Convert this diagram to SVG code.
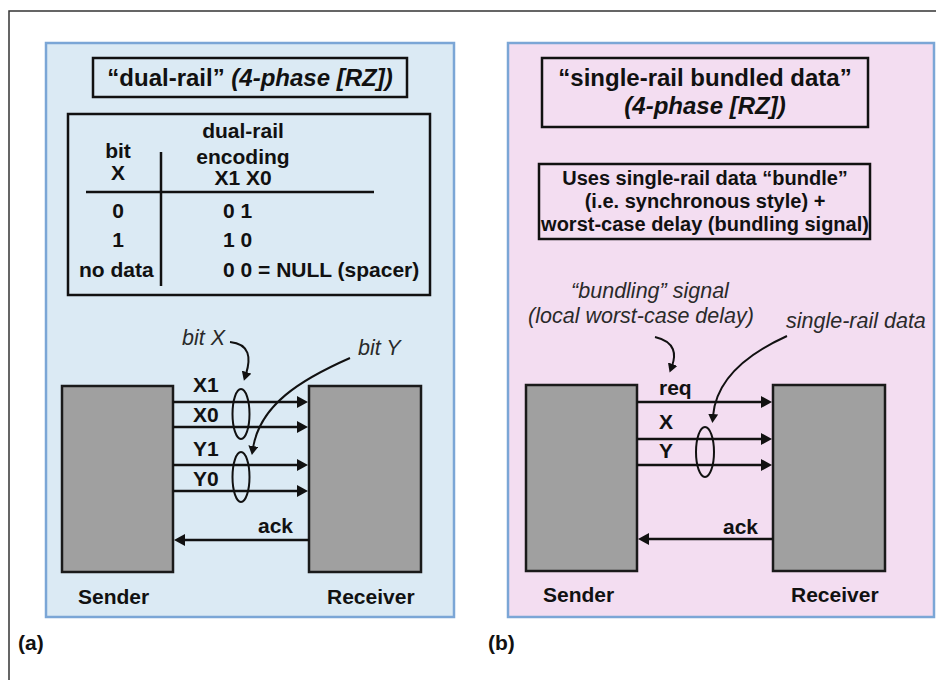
<svg xmlns="http://www.w3.org/2000/svg" width="936" height="680" viewBox="0 0 936 680">
<style>
.b{font-family:"Liberation Sans",Arial,sans-serif;font-weight:bold;fill:#111}
.t{font-size:24px}
.m{font-size:21px}
.s{font-size:20px}
.bi{font-style:italic}
.a{font-family:"Liberation Sans",Arial,sans-serif;font-style:italic;font-size:21.5px;fill:#2a2a2a}
.box{fill:none;stroke:#111;stroke-width:2.5}
.blk{fill:#a0a0a0;stroke:#1a1a1a;stroke-width:2.5}
.w{stroke:#111;stroke-width:2.5;fill:none}
.c{stroke:#111;stroke-width:2;fill:none}
.e{fill:none;stroke:#111;stroke-width:2}
.c1{text-anchor:middle}
</style>
<defs>
<marker id="ah" markerUnits="userSpaceOnUse" markerWidth="11" markerHeight="12" refX="2" refY="6" orient="auto"><path d="M0,0 L11,6 L0,12 z" fill="#111"/></marker>
<marker id="sh" markerUnits="userSpaceOnUse" markerWidth="9" markerHeight="10" refX="2" refY="5" orient="auto"><path d="M0,0 L9,5 L0,10 z" fill="#111"/></marker>
</defs>
<rect width="936" height="680" fill="#fff"/>
<path d="M9,680 V11 H936" fill="none" stroke="#333" stroke-width="1.5"/>

<g id="panel-a">
<rect x="46" y="43" width="408" height="574" fill="#dbeaf4" stroke="#7ba6d6" stroke-width="2.5"/>
</g>
<g id="panel-b">
<rect x="508" y="43" width="426" height="574" fill="#f3ddf1" stroke="#7ba6d6" stroke-width="2.5"/>
</g>

<g id="title-a">
<rect class="box" x="93" y="58" width="314" height="39"/>
<text class="b t" x="250" y="86" text-anchor="middle">“dual-rail” <tspan class="bi">(4-phase [RZ])</tspan></text>
</g>

<g id="table-a">
<rect class="box" x="68" y="114" width="362" height="181"/>
<line class="w" x1="161" y1="152" x2="161" y2="286"/>
<line class="w" x1="86" y1="192" x2="374" y2="192"/>
<text class="b m c1" x="118" y="158">bit</text>
<text class="b m c1" x="118" y="180">X</text>
<text class="b m c1" x="243" y="138">dual-rail</text>
<text class="b m c1" x="243" y="164">encoding</text>
<text class="b m c1" x="243" y="185">X1 X0</text>
<text class="b m c1" x="118" y="218">0</text>
<text class="b m c1" x="118" y="247">1</text>
<text class="b m" x="79" y="277">no data</text>
<text class="b m" x="223" y="218">0 1</text>
<text class="b m" x="223" y="247">1 0</text>
<text class="b m" x="223" y="277">0 0 = NULL (spacer)</text>
</g>

<g id="sender-a">
<rect class="blk" x="62" y="386" width="111" height="186"/>
<text class="b m" x="78" y="604">Sender</text>
</g>
<g id="receiver-a">
<rect class="blk" x="309" y="386" width="112" height="186"/>
<text class="b m" x="327" y="604">Receiver</text>
</g>

<g id="bundle-x-a"><ellipse class="e" cx="241" cy="414" rx="8.5" ry="25"/></g>
<g id="bundle-y-a"><ellipse class="e" cx="241" cy="477" rx="8.5" ry="25"/></g>

<g id="labels-a">
<text class="b m" x="193" y="392">X1</text>
<text class="b m" x="193" y="422">X0</text>
<text class="b m" x="193" y="456">Y1</text>
<text class="b m" x="193" y="486">Y0</text>
<text class="b m" x="258" y="533">ack</text>
<text class="a" x="182" y="345">bit X</text>
<text class="a" x="358" y="355">bit Y</text>
<text class="b m" x="18" y="650">(a)</text>
</g>

<g id="title-b">
<rect class="box" x="542" y="58" width="326" height="69"/>
<text class="b t" x="705" y="86" text-anchor="middle">“single-rail bundled data”</text>
<text class="b t bi" x="705" y="114" text-anchor="middle">(4-phase [RZ])</text>
</g>

<g id="note-b">
<rect class="box" x="539" y="164" width="331" height="75"/>
<text class="b s c1" x="705" y="185">Uses single-rail data “bundle”</text>
<text class="b s c1" x="705" y="208">(i.e. synchronous style) +</text>
<text class="b s c1" x="705" y="231">worst-case delay (bundling signal)</text>
</g>

<g id="sender-b">
<rect class="blk" x="526" y="385" width="111" height="186"/>
<text class="b m" x="543" y="602">Sender</text>
</g>
<g id="receiver-b">
<rect class="blk" x="773" y="385" width="112" height="186"/>
<text class="b m" x="791" y="602">Receiver</text>
</g>

<g id="bundle-b"><ellipse class="e" cx="705" cy="452" rx="9" ry="25"/></g>

<g id="labels-b">
<text class="b m" x="659" y="395">req</text>
<text class="b m" x="659" y="429">X</text>
<text class="b m" x="659" y="458">Y</text>
<text class="b m" x="723" y="534">ack</text>
<text class="a" x="650" y="298" text-anchor="middle">“bundling” signal</text>
<text class="a" x="641" y="323" text-anchor="middle">(local worst-case delay)</text>
<text class="a" x="786" y="328">single-rail data</text>
<text class="b m" x="488" y="650">(b)</text>
</g>

<g id="connectors">
<line class="w" x1="173" y1="402" x2="299" y2="402" marker-end="url(#ah)"/>
<line class="w" x1="173" y1="427" x2="299" y2="427" marker-end="url(#ah)"/>
<line class="w" x1="173" y1="465" x2="299" y2="465" marker-end="url(#ah)"/>
<line class="w" x1="173" y1="491" x2="299" y2="491" marker-end="url(#ah)"/>
<line class="w" x1="309" y1="540" x2="183" y2="540" marker-end="url(#ah)"/>
<path class="c" d="M230,342 C250,344 251,358 246,374" marker-end="url(#sh)"/>
<path class="c" d="M350,358 C300,380 260,405 253,448" marker-end="url(#sh)"/>

<line class="w" x1="637" y1="402" x2="763" y2="402" marker-end="url(#ah)"/>
<line class="w" x1="637" y1="439" x2="763" y2="439" marker-end="url(#ah)"/>
<line class="w" x1="637" y1="465" x2="763" y2="465" marker-end="url(#ah)"/>
<line class="w" x1="773" y1="539" x2="647" y2="539" marker-end="url(#ah)"/>
<path class="c" d="M655,337 C676,342 676,355 672,366" marker-end="url(#sh)"/>
<path class="c" d="M787,336 C745,355 716,380 713,416" marker-end="url(#sh)"/>
</g>
</svg>
